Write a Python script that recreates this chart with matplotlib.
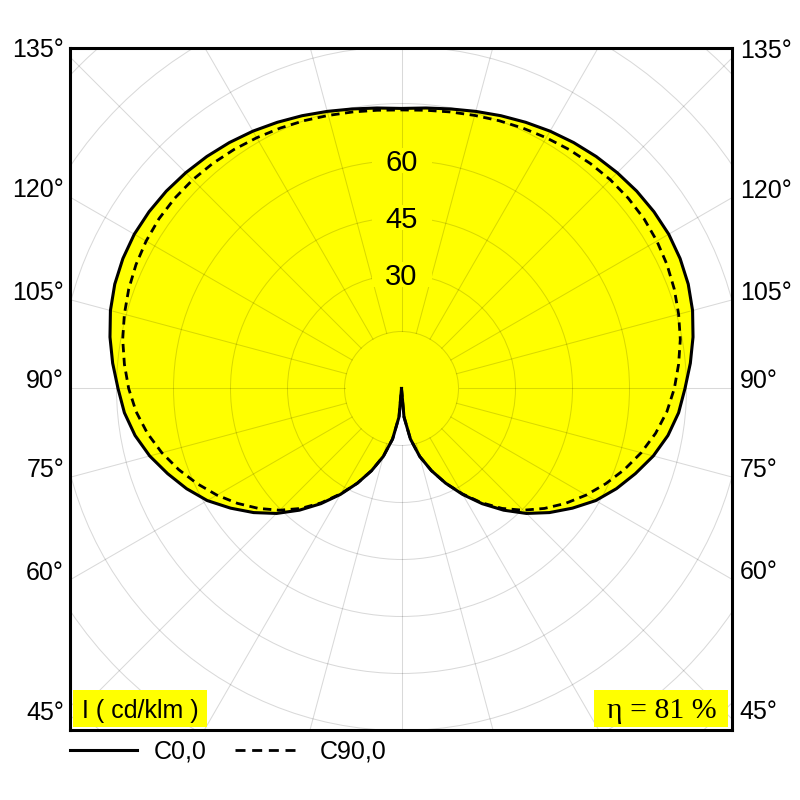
import numpy as np
import matplotlib
matplotlib.use("Agg")
import matplotlib.pyplot as plt
from matplotlib.lines import Line2D
from matplotlib.patches import Circle, Rectangle

# ---------------- data ----------------
gamma = [0, 5, 10, 15, 20, 25, 30, 35, 40, 45, 50, 55, 60, 65, 70, 75, 80, 85, 90,
         95, 100, 105, 110, 115, 120, 125, 130, 135, 140, 145, 150, 155, 160, 165,
         170, 175, 180]
c0 = [0, 7.5, 13.5, 18.5, 23.0, 27.5, 32.2, 37.0, 41.8, 46.5, 50.8, 54.9, 59.0,
      62.4, 65.5, 68.6, 71.2, 73.2, 74.6, 76.3, 77.9, 79.3, 80.3, 80.9, 81.2, 81.1,
      80.8, 80.3, 79.7, 79.0, 78.2, 77.3, 76.4, 75.5, 74.7, 74.1, 73.7]
c90 = [0, 7.5, 13.5, 18.5, 23.0, 27.5, 32.0, 36.7, 41.2, 45.3, 49.1, 52.7, 56.1,
       59.3, 62.4, 65.3, 67.9, 70.1, 71.8, 73.2, 74.5, 75.5, 76.4, 77.1, 77.6, 77.9,
       77.9, 77.7, 77.3, 76.8, 76.2, 75.6, 75.0, 74.4, 73.9, 73.5, 73.3]
ring_values = [15, 30, 45, 60, 75, 90, 105, 120]
ring_labels = [30, 45, 60]
radial_angles = list(range(0, 360, 15))
angle_labels = [45, 60, 75, 90, 105, 120, 135]
series_names = ["C0,0", "C90,0"]
unit_text = "I ( cd/klm )"
eta_text = "η = 81 %"

# ---------------- style ----------------
YELLOW = "#ffff00"
GRID_KW = dict(color="black", alpha=0.15, lw=0.75)
plt.rcParams["font.family"] = ["Liberation Sans", "DejaVu Sans"]

fig = plt.figure(figsize=(8, 8), dpi=100)
PX = 800.0
ax_l, ax_r, ax_t, ax_b = 70.0, 731.7, 48.3, 730.0
cx, cy, scale = 401.5, 388.5, 3.8
ax = fig.add_axes([ax_l / PX, 1 - ax_b / PX, (ax_r - ax_l) / PX, (ax_b - ax_t) / PX])
xmin, xmax = (ax_l - cx) / scale, (ax_r - cx) / scale
ymin, ymax = (cy - ax_b) / scale, (cy - ax_t) / scale
ax.set_xlim(xmin, xmax)
ax.set_ylim(ymin, ymax)
ax.set_xticks([])
ax.set_yticks([])
for s in ax.spines.values():
    s.set_linewidth(2.2)
    s.set_color("black")
    s.set_zorder(10)


def curve(vals):
    t = np.radians(gamma)
    v = np.asarray(vals, float)
    xr = v * np.sin(t)
    yr = -v * np.cos(t)
    x = np.concatenate([xr, -xr[::-1]])
    y = np.concatenate([yr, yr[::-1]])
    return x, y


x0, y0 = curve(c0)
x9, y9 = curve(c90)

ax.fill(x0, y0, color=YELLOW, lw=0, zorder=1)

# grid
for r in ring_values:
    ax.add_patch(Circle((0, 0), r, fill=False, ec=GRID_KW["color"],
                        alpha=GRID_KW["alpha"], lw=GRID_KW["lw"], zorder=2))
r_in, r_out = ring_values[0], 200
for a in radial_angles:
    t = np.radians(a)
    ax.plot([r_in * np.sin(t), r_out * np.sin(t)],
            [-r_in * np.cos(t), -r_out * np.cos(t)], zorder=2, **GRID_KW)

# ring labels with masking boxes
mw, mh = 60 / scale, 25 / scale
for r in ring_labels:
    ax.add_patch(Rectangle((-mw / 2, r - mh / 2), mw, mh, fc=YELLOW, ec="none", zorder=3))
    ax.annotate(str(r), xy=(0, r), xytext=(0, -7.3), textcoords="offset points",
                ha="center", va="baseline", fontsize=21, zorder=6)

# curves
ax.plot(x0, y0, color="black", lw=2.2, zorder=5, solid_joinstyle="round")
ax.plot(x9, y9, color="black", lw=2.0, zorder=5, linestyle=(0, (3.0, 2.0)))

# angle labels
for g in angle_labels:
    t = np.radians(g)
    cot = np.cos(t) / np.sin(t)
    ax.annotate(f"{g}°", xy=(xmax, -xmax * cot), xytext=(5.8, 0), textcoords="offset points",
                ha="left", va="baseline", fontsize=18, annotation_clip=False)
    ax.annotate(f"{g}°", xy=(xmin, xmin * cot), xytext=(-4.3, 0),
                textcoords="offset points", ha="right", va="baseline", fontsize=18,
                annotation_clip=False)

# info boxes (figure pixel layout)
def fx(p):
    return p / PX


def fy(p):
    return 1 - p / PX


for (l, r) in [(73.3, 207.3), (594.0, 728.3)]:
    fig.add_artist(Rectangle((fx(l), fy(726.7)), (r - l) / PX, (726.7 - 690.0) / PX,
                             transform=fig.transFigure, fc=YELLOW, ec="none", zorder=5))
fig.text(fx(81.7), fy(718.3), unit_text, ha="left", va="baseline", fontsize=18, zorder=6)
fig.text(fx(716.7), fy(718.3), eta_text, ha="right", va="baseline", fontsize=21.5,
         zorder=6, family=["Liberation Serif", "DejaVu Serif"])

# legend below
ly = fy(750)
fig.add_artist(Line2D([fx(70), fx(137)], [ly, ly], color="black", lw=2.2))
fig.text(fx(154), fy(758.3), series_names[0], ha="left", va="baseline", fontsize=18)
fig.add_artist(Line2D([fx(235), fx(295)], [ly, ly], color="black", lw=2.0,
                      linestyle=(0, (3.6, 2.4))))
fig.text(fx(319.3), fy(758.3), series_names[1], ha="left", va="baseline", fontsize=18)

fig.savefig("out.png", dpi=100, facecolor="white")
